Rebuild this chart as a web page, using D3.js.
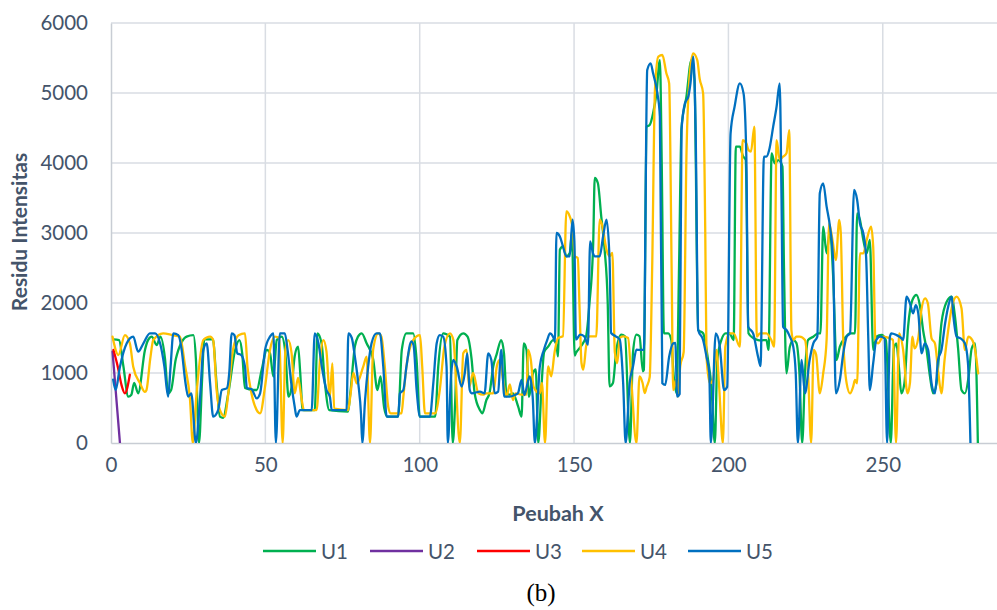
<!DOCTYPE html>
<html>
<head>
<meta charset="utf-8">
<script src="https://cdn.jsdelivr.net/npm/d3@7"></script>
<style>
  html, body { margin: 0; padding: 0; background: #fff; }
  svg { display: block; }
</style>
</head>
<body>
<svg id="chart" width="997" height="610"></svg>
<script>
// ---- data (x = Peubah X, y = Residu Intensitas) ----
const seriesNames = ["U1", "U2", "U3", "U4", "U5"];
const seriesColors = ["#00B050", "#7030A0", "#FF0000", "#FFC000", "#0070C0"];
const xTicks = [0, 50, 100, 150, 200, 250];
const yTicks = [0, 1000, 2000, 3000, 4000, 5000, 6000];

const u1 = [[0.7,1480],[2.6,1470],[4.0,1100],[5.6,662],[6.6,690],[7.5,860],[8.8,710],[11,1330],[12,1470],[13.2,1519],[14.8,1400],[16,1519],[17.5,1200],[18.5,710],[19.5,760],[21,1200],[24.5,1519],[26.7,1540],[27.5,1200],[28.5,0],[29.5,900],[30.2,1480],[33,1480],[34.2,850],[35.3,376],[36.3,360],[38,710],[40.2,1329],[41.6,1471],[42.5,1281],[43.4,786],[46.1,757],[47.2,757],[48.8,1043],[50.5,1329],[51.5,1281],[52.6,950],[53.7,1471],[55.3,1519],[56.5,1281],[57.5,662],[58.5,800],[59.5,1240],[60.6,1376],[61.3,1000],[62.1,470],[66,470],[66.9,1567],[68.2,1424],[69.3,852],[70.7,470],[76.8,450],[77.5,700],[79,1380],[80,1519],[81.2,1567],[82.8,1424],[84.9,1200],[86.3,757],[87.3,950],[88.5,500],[89.5,376],[93,376],[94.2,1330],[95.7,1567],[97.9,1567],[99,1180],[100,376],[105,376],[106,1090],[107.6,1567],[109.8,1519],[110.7,0],[111.5,600],[112.2,1471],[114.1,1567],[115.5,1519],[116.8,1200],[117.8,710],[119.5,470],[120.3,424],[121.6,614],[122.6,710],[123.8,1090],[125,1281],[126.4,1471],[127.3,1281],[128.1,710],[129.2,690],[130.2,710],[131.9,519],[133,376],[133.7,1424],[134.6,1330],[135.4,660],[136.7,1000],[137.6,1050],[138.4,0],[139.5,850],[140.3,1300],[141.6,1376],[143.2,1471],[144.3,1400],[144.8,1238],[145.4,2762],[146.4,2810],[147.5,2667],[148.6,2714],[149.3,3000],[150.2,1250],[150.6,1286],[152.2,1380],[153.9,1524],[155,2000],[156.2,2857],[156.7,3786],[157.7,3714],[158.8,3238],[159.9,2762],[160.9,2000],[161.5,810],[162.6,857],[163.7,1333],[165.3,1548],[166.5,1524],[168.1,0],[169.1,1300],[170.2,1548],[171.2,1524],[172.3,1024],[172.6,1043],[173.5,4519],[174.5,4543],[175.6,4710],[176.7,5000],[177.8,5471],[178.4,4000],[179.1,1567],[180.5,1567],[181.5,1471],[182.2,1000],[183.2,710],[184,2500],[184.8,4500],[186.4,4948],[188,5471],[189,5200],[190.2,1614],[191.8,1567],[193.4,1186],[194.5,800],[195.6,0],[196.4,1186],[197.7,1471],[199.1,1567],[200.3,1567],[201.7,1471],[202.4,4233],[203.7,4233],[204.7,4100],[205.6,4043],[206.5,1567],[208,1500],[209.6,1471],[210.5,1466],[212.3,1471],[213,1329],[214,4138],[215,3995],[216.2,4040],[217.5,3950],[218,2500],[218.8,995],[219.9,1376],[221,1471],[222,1430],[223,1000],[223.9,0],[224.8,1000],[225.8,1471],[227.5,1519],[229.1,1567],[229.8,1567],[230.7,3090],[231.8,2710],[232.9,3040],[233.9,2400],[235,1186],[236.1,1376],[237.7,1500],[239.4,1567],[241,1567],[241.7,3281],[242.6,3190],[243.7,2900],[244.8,2710],[245.8,2900],[246.9,1329],[247.9,1519],[249.6,1543],[251,1470],[252.6,0],[253.6,1350],[254.4,1424],[255.2,1100],[256,710],[257,850],[258.2,1662],[259.6,2043],[260.9,2114],[262,1971],[263.1,1600],[264.2,1329],[265.3,948],[266.3,710],[267.4,850],[269,1710],[270.7,2019],[272.3,2090],[273.4,1800],[274.4,1350],[275.5,757],[276.6,710],[277.8,948],[278.8,1350],[279.9,1424],[280.8,0]];

const u2 = [[0.5,1305],[2.9,0]];

const u3 = [[0.8,1330],[2.2,1090],[3.4,830],[4.5,710],[6.1,975]];

const u4 = [[0.5,1519],[2.4,1257],[4.5,1540],[6.1,1424],[7.2,1090],[9.4,852],[11,730],[11.5,757],[12.7,1200],[13.7,1471],[16.9,1567],[20,1540],[22.3,1519],[24,1100],[25.6,614],[26.5,0],[27.7,700],[29.9,1471],[32.1,1519],[33.1,1471],[34.2,757],[35.3,470],[36.9,376],[38,710],[39.5,1329],[41.3,1540],[43.4,1567],[44.2,1090],[45.5,710],[47.2,470],[48.3,424],[49.9,805],[51.5,1329],[53.1,1519],[54.5,1500],[55.6,0],[56.5,1329],[57.4,1471],[58.5,1281],[59.5,710],[60.6,930],[61.7,638],[62.5,470],[66.6,470],[67.7,1186],[68.8,1471],[69.8,1305],[70.9,662],[71.7,1138],[72.3,490],[76.8,470],[77.6,700],[78.5,1000],[79.6,852],[81.7,1090],[82.8,1233],[83.9,0],[84.9,1329],[86.6,1567],[87.6,1519],[88.6,1138],[89.8,519],[90.6,424],[94.1,424],[94.7,662],[95.7,1090],[97.9,1471],[100.1,1540],[100.8,1100],[101.7,424],[105,424],[106.5,757],[108,1376],[109.8,1567],[110.9,1471],[113,0],[114.1,1281],[115.2,1329],[116,800],[117.3,1000],[119,710],[120.5,690],[121.6,710],[123.8,710],[125,1100],[125.9,1186],[127,900],[128.1,662],[129.2,838],[130.2,614],[131,710],[133,690],[134.6,690],[135.1,1329],[136,1186],[136.9,800],[138.9,710],[139.6,857],[140.6,0],[141.6,1095],[142.6,952],[143.7,1300],[144.8,1500],[146.4,1524],[147.5,3310],[148.6,3238],[149.7,3000],[150.2,2667],[151.2,2643],[151.8,1900],[152.4,1143],[153,1048],[153.9,1380],[155,1524],[157.2,1524],[158.3,3190],[159.2,3095],[160.5,2762],[161.5,2667],[162.4,2714],[163.2,1300],[164,1143],[164.8,1500],[165.9,1524],[167.5,1500],[168.6,857],[170.2,0],[171.2,952],[172.2,857],[172.9,714],[173.5,800],[174.5,943],[175.3,2500],[176.2,5043],[177.3,5519],[178.6,5543],[179.9,5281],[180.8,5138],[181.6,2500],[182.1,757],[183,900],[183.7,662],[184.4,1100],[185.5,1300],[186.4,4100],[187.5,5281],[188.6,5567],[189.9,5471],[190.7,5200],[191.8,4995],[192.5,3000],[192.9,1233],[194,852],[195,900],[196.1,1329],[197,800],[198.2,0],[199,1376],[200.3,1567],[201.7,1567],[203.7,1376],[204.6,4328],[205.8,4280],[206.5,4186],[207.3,4162],[208.4,4519],[209.2,1519],[210.2,1567],[212.3,1567],[213.9,1471],[214.8,1376],[215.6,4328],[216.6,4050],[217.7,4090],[218.8,4138],[219.7,4471],[220.4,1614],[221,1471],[222,1519],[223.1,1519],[224.8,1471],[225.8,995],[226.8,0],[227.6,1329],[228.4,1262],[229.6,710],[230.7,995],[231.8,1471],[232.6,3138],[233.7,2900],[234.8,2614],[235.9,3186],[236.4,3000],[237.2,1471],[238.3,852],[239.4,710],[240.4,805],[241,900],[241.7,852],[242.6,2710],[243.7,2710],[244.8,2900],[246.2,3090],[246.9,2800],[247.6,1471],[248.5,1424],[250.1,1519],[252.3,1495],[253.3,1471],[254.3,0],[255.3,1567],[256.6,1329],[258,710],[258.8,857],[259.6,1519],[260.3,1352],[261.5,1500],[262.5,1900],[263.7,2067],[264.6,1995],[265.8,1495],[266.9,1424],[268,1000],[269,710],[270,1180],[271.2,1614],[272.3,1924],[273.9,2090],[275.5,1924],[276.6,1329],[277.7,1519],[279,1470],[279.9,1329],[280.9,995]];

const u5 = [[0.7,905],[1.5,757],[2.9,1090],[5.1,1424],[7.2,1519],[8.8,1305],[10.5,1424],[12.6,1567],[14.3,1567],[15.9,1424],[17.3,1090],[18.5,662],[19.3,1090],[20.2,1567],[21.8,1540],[22.9,1329],[24,900],[25,662],[26,710],[27.5,0],[28.8,614],[29.9,1329],[31,1424],[32.1,852],[33.1,376],[34.7,470],[35.9,757],[37.5,780],[38.3,1000],[39.1,1567],[40,1540],[40.9,1281],[42.2,1257],[43.4,1090],[44,786],[45.5,770],[47.2,638],[48.3,710],[49.9,1329],[51.5,1519],[52.6,1567],[53.4,0],[54.7,1567],[56.3,1567],[57.2,1329],[58.4,852],[59.5,519],[60.1,376],[61.2,470],[65,470],[66,1567],[67.2,1424],[68.3,1090],[69.8,757],[70.9,662],[71.5,470],[76.3,470],[76.9,1567],[78,1500],[79.1,1200],[80.1,852],[81,400],[81.4,0],[82.3,614],[83.3,1090],[84.4,1424],[86,1567],[87.1,1567],[88.2,1090],[89.3,376],[90.3,376],[93,376],[93.6,710],[94.7,757],[95.7,1090],[97.3,1450],[98,1400],[99,757],[100.1,376],[103.3,376],[104.4,852],[105.5,1424],[106.5,1540],[107.6,1519],[108.7,1090],[109.1,0],[110.2,1000],[110.9,1186],[112,1090],[113.6,805],[114.6,1000],[115.4,1281],[116.2,757],[116.8,710],[119.5,733],[121,710],[122.2,1281],[123.2,1186],[124.3,710],[125.4,733],[126.4,1329],[127.4,662],[129.2,662],[130.8,686],[131.8,710],[133,900],[133.9,686],[135.6,950],[136.6,660],[137.3,0],[138.9,1090],[140.2,1329],[141.3,1471],[142.2,1567],[143.2,1519],[143.8,1452],[144.3,3000],[145.4,2950],[146.4,2810],[147.5,2667],[148.6,2667],[149.5,3190],[150.1,2880],[150.6,1476],[152,1548],[153.3,1524],[154.5,1405],[155.2,2880],[156.2,2700],[156.7,2667],[158.3,2667],[159.4,2950],[160.5,3190],[161.5,2619],[162,1571],[163.5,1524],[164.8,1476],[165.9,857],[166.7,0],[168,857],[169.1,1095],[170.2,1333],[171.3,1329],[172.6,1329],[173.7,5329],[174.8,5424],[175.6,5281],[177,4995],[177.8,4662],[178.6,852],[179.5,829],[180.8,1233],[182.1,1424],[182.8,1430],[183.4,662],[184.2,700],[184.8,4471],[185.9,4852],[187,4948],[187.7,5138],[188.6,5519],[189.4,4400],[190.2,1614],[191.8,1471],[192.9,1233],[193.8,1000],[194.3,0],[195.9,1567],[197.2,1376],[198.6,757],[199.6,805],[200.7,4424],[202,4805],[203.7,5138],[204.9,4995],[205.8,4090],[206.4,1662],[208,1567],[209.6,1233],[210.4,1100],[211.5,4090],[212.3,4090],[213.2,4186],[214.5,4519],[215.6,4805],[216.6,5138],[217.2,3500],[217.7,1662],[218.8,1614],[219.9,1519],[221,1376],[221.8,1000],[222.5,0],[223.7,1186],[224.8,710],[226.3,1186],[227.5,1424],[228.8,1519],[229.6,3567],[230.7,3710],[231.8,3381],[232.9,3090],[233.9,2614],[234.8,710],[236.1,900],[237.2,1281],[238.3,1519],[239.4,1567],[240.7,3614],[241.7,3471],[242.6,3138],[243.7,2995],[244.6,2662],[245.3,1500],[245.8,757],[246.9,1140],[247.9,1471],[249.1,1519],[250.6,1495],[251.4,0],[252.3,1519],[252.8,1567],[254.4,1543],[256.1,1495],[256.6,1471],[257.7,2090],[258.8,1995],[259.8,1852],[260.7,1971],[261.5,1852],[262.6,1281],[263.6,1424],[264.7,1329],[265.8,852],[266.9,710],[267.9,1185],[269,1329],[270.2,1710],[271.2,1950],[272.3,2090],[272.9,1800],[273.9,1519],[275.2,1495],[276.6,1424],[277.6,1140],[278.4,0]];

const seriesData = [u1, u2, u3, u4, u5];

// ---- layout ----
const svg = d3.select("#chart");
const margin = { left: 111, top: 23, right: 0, bottom: 167 };
const W = 997, H = 610;
const plotW = W - margin.left - margin.right;
const plotH = H - margin.top - margin.bottom;
const textColor = "#44546A";
const gridColor = "#D9DDE3";
const font = "Lato, 'Open Sans', sans-serif";

const x = d3.scaleLinear().domain([0, 287]).range([margin.left, margin.left + plotW]);
const y = d3.scaleLinear().domain([0, 6000]).range([margin.top + plotH, margin.top]);

// gridlines
svg.append("g").selectAll("line.h").data(yTicks.filter(d => d > 0)).join("line")
  .attr("x1", margin.left).attr("x2", margin.left + plotW)
  .attr("y1", d => y(d)).attr("y2", d => y(d))
  .attr("stroke", gridColor).attr("stroke-width", 1.5);
svg.append("g").selectAll("line.v").data(xTicks.filter(d => d > 0)).join("line")
  .attr("x1", d => x(d)).attr("x2", d => x(d))
  .attr("y1", margin.top).attr("y2", margin.top + plotH)
  .attr("stroke", gridColor).attr("stroke-width", 1.5);

// axes
const xAxis = d3.axisBottom(x).tickValues(xTicks).tickFormat(d3.format("d")).tickSize(0).tickPadding(14);
const gx = svg.append("g").attr("transform", `translate(0,${margin.top + plotH})`).call(xAxis);
gx.select(".domain").attr("stroke", "#C8CDD4").attr("stroke-width", 1.5);
gx.selectAll("text").attr("fill", textColor).style("font-family", font).style("font-size", "20.5px");

const yAxis = d3.axisLeft(y).tickValues(yTicks).tickFormat(d3.format("d")).tickSize(0).tickPadding(23);
const gy = svg.append("g").attr("transform", `translate(${margin.left},0)`).call(yAxis);
gy.select(".domain").attr("stroke", "#C8CDD4").attr("stroke-width", 1.5);
gy.selectAll("text").attr("fill", textColor).style("font-family", font).style("font-size", "20.5px");

// clip
svg.append("clipPath").attr("id", "clip").append("rect")
  .attr("x", margin.left).attr("y", margin.top - 5).attr("width", plotW).attr("height", plotH + 5);

const line = d3.line().x(d => x(d[0])).y(d => y(d[1])).curve(d3.curveMonotoneX);

svg.append("g").attr("clip-path", "url(#clip)").selectAll("path").data(seriesData).join("path")
  .attr("d", d => line(d))
  .attr("fill", "none")
  .attr("stroke", (d, i) => seriesColors[i])
  .attr("stroke-width", 2.3)
  .attr("stroke-linejoin", "round")
  .attr("stroke-linecap", "round");

// axis titles
svg.append("text").attr("x", 558).attr("y", 521).attr("text-anchor", "middle")
  .attr("fill", textColor).style("font-family", font).style("font-weight", "bold").style("font-size", "21.5px")
  .text("Peubah X");
svg.append("text").attr("transform", "translate(27,232) rotate(-90)").attr("text-anchor", "middle")
  .attr("fill", textColor).style("font-family", font).style("font-weight", "bold").style("font-size", "21px")
  .text("Residu Intensitas");

// legend
const legendX = [263, 370, 477, 582, 688];
const lg = svg.append("g");
seriesNames.forEach((name, i) => {
  lg.append("line").attr("x1", legendX[i]).attr("x2", legendX[i] + 53)
    .attr("y1", 551).attr("y2", 551)
    .attr("stroke", seriesColors[i]).attr("stroke-width", 2.5);
  lg.append("text").attr("x", legendX[i] + 58).attr("y", 558.5)
    .attr("fill", textColor).style("font-family", font).style("font-size", "20.5px")
    .text(name);
});

// caption
svg.append("text").attr("x", 541).attr("y", 601).attr("text-anchor", "middle")
  .attr("fill", "#000").style("font-family", "'Liberation Serif', 'Times New Roman', serif").style("font-size", "25px")
  .text("(b)");
</script>
</body>
</html>
